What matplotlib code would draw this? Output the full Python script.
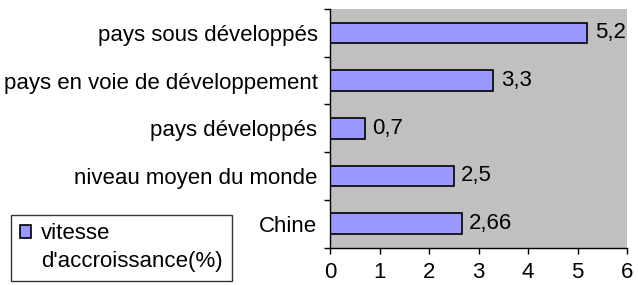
import numpy as np
import matplotlib.pyplot as plt
from matplotlib.patches import Patch

plt.rcParams['font.family'] = ['Liberation Sans', 'DejaVu Sans']

categories = ["Chine", "niveau moyen du monde", "pays développés",
              "pays en voie de développement", "pays sous développés"]
values = [2.66, 2.5, 0.7, 3.3, 5.2]
value_labels = ["2,66", "2,5", "0,7", "3,3", "5,2"]
series_name = ["vitesse", "d'accroissance(%)"]

W, H = 638, 285
FS = 16
fig = plt.figure(figsize=(W / 100, H / 100), dpi=100)
ax = fig.add_axes([330 / W, 1 - 247.5 / H, (627 - 330) / W, (247.5 - 9) / H])
ax.set_facecolor("#C0C0C0")

y = np.arange(len(categories))
bars = ax.barh(y, values, height=0.43, color="#9999FF", edgecolor="black",
               linewidth=1.2)
for yi, v, lab in zip(y, values, value_labels):
    ax.text(v + 0.15, yi, lab, va="center", ha="left", fontsize=FS)

ax.set_xlim(0, 6)
ax.set_ylim(-0.5, len(categories) - 0.5)
ax.set_xticks(range(7))
ax.set_yticks(y)
ax.set_yticklabels(categories)
ax.set_yticks(np.arange(-0.5, len(categories)), minor=True)
ax.tick_params(axis="y", which="major", length=0, pad=9, labelsize=FS)
ax.tick_params(axis="y", which="minor", length=4.5, width=1)
ax.tick_params(axis="x", length=4.5, width=1, pad=6, labelsize=FS)
for s in ["top", "right"]:
    ax.spines[s].set_visible(False)
for s in ["left", "bottom"]:
    ax.spines[s].set_linewidth(1)

# legend: second line is an empty entry so the text lines up under the first
blank = Patch(facecolor="none", edgecolor="none")
leg = fig.legend(handles=[bars, blank], labels=series_name,
                 loc="lower left", bbox_to_anchor=(11 / W, 4 / H),
                 fontsize=FS, frameon=True, fancybox=False,
                 edgecolor="black", handlelength=0.5, handleheight=0.5,
                 handletextpad=0.45, borderpad=0.4, labelspacing=0.3,
                 borderaxespad=0)
leg.get_frame().set_linewidth(1)

fig.savefig("out.png", dpi=100)
